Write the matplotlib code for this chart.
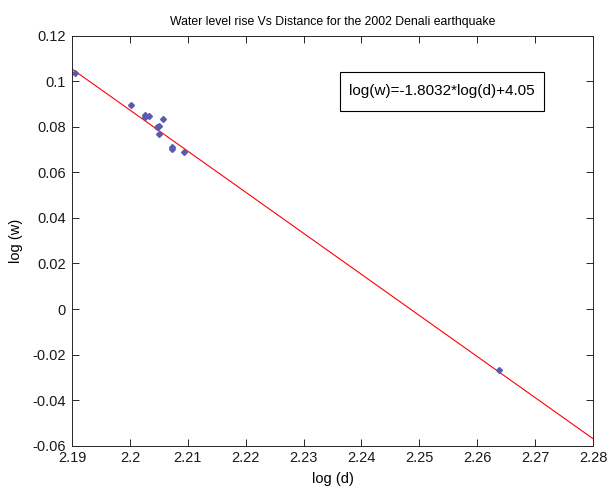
import matplotlib
matplotlib.use("Agg")
import matplotlib.pyplot as plt
from matplotlib.patches import Rectangle
import numpy as np

plt.rcParams['font.family'] = ['Liberation Sans', 'DejaVu Sans']

# Data
log_d = [2.1905, 2.2002, 2.2026, 2.2026, 2.2033, 2.2057, 2.2046, 2.2050, 2.2050,
         2.2073, 2.2073, 2.2093, 2.2637]
log_w = [0.1035, 0.0895, 0.0854, 0.0843, 0.0846, 0.0835, 0.0799, 0.0803, 0.0767,
         0.0712, 0.0703, 0.0688, -0.0267]
fit_slope = -1.8032
fit_intercept = 4.0544
fit_range = [2.19, 2.28]

xticks = [2.19, 2.20, 2.21, 2.22, 2.23, 2.24, 2.25, 2.26, 2.27, 2.28]
xticklabels = ['2.19', '2.2', '2.21', '2.22', '2.23', '2.24', '2.25', '2.26', '2.27', '2.28']
yticks = [-0.06, -0.04, -0.02, 0, 0.02, 0.04, 0.06, 0.08, 0.1, 0.12]
yticklabels = ['-0.06', '-0.04', '-0.02', '0', '0.02', '0.04', '0.06', '0.08', '0.1', '0.12']

fig = plt.figure(figsize=(6.08, 4.91), dpi=100)
ax = fig.add_axes([0.1184, 0.0922, 0.8569, 0.8351])

xf = np.array(fit_range)
ax.plot(xf, fit_slope * xf + fit_intercept, color='#ff0000', lw=0.8)
ax.plot(log_d, log_w, linestyle='none', marker='D', ms=3.0, color='#5a5aae', mec='#5a5aae')

ax.set_xlim(2.19, 2.28)
ax.set_ylim(-0.06, 0.12)
ax.set_xticks(xticks)
ax.set_xticklabels(xticklabels)
ax.set_yticks(yticks)
ax.set_yticklabels(yticklabels)
ax.tick_params(direction='in', top=True, right=True, labelsize=10.5, length=5, width=0.7,
               colors='#262626', labelcolor='#1a1a1a')
ax.tick_params(axis='x', pad=4)
ax.tick_params(axis='y', pad=4.5)
for s in ax.spines.values():
    s.set_linewidth(0.7)
    s.set_color('#262626')

ax.set_title('Water level rise Vs Distance for the 2002 Denali earthquake', fontsize=8.8, pad=8)
ax.set_xlabel('log (d)', fontsize=10.5, labelpad=4.5)
ax.set_ylabel('log (w)', fontsize=10.5, labelpad=6.5)

ax.add_patch(Rectangle((0.5144, 0.8163), 0.3916, 0.0952, transform=ax.transAxes,
                       fc='white', ec='black', lw=0.8, zorder=5))
ax.text(0.71, 0.864, 'log(w)=-1.8032*log(d)+4.05', transform=ax.transAxes,
        ha='center', va='center', fontsize=11, zorder=6)

fig.savefig('out.png', dpi=100)
